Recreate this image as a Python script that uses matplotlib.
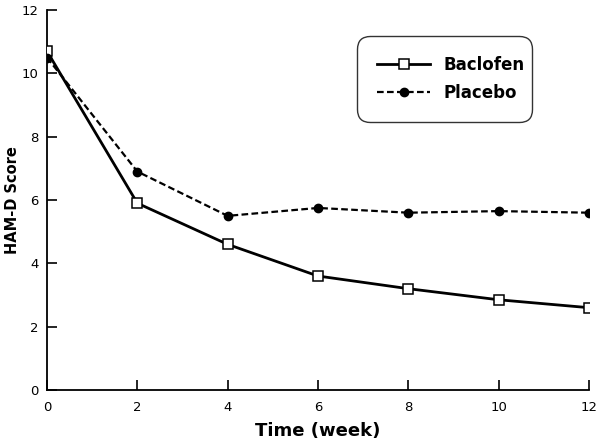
import matplotlib
matplotlib.use("Agg")
import matplotlib.pyplot as plt

weeks = [0, 2, 4, 6, 8, 10, 12]
baclofen = [10.7, 5.9, 4.6, 3.6, 3.2, 2.85, 2.6]
placebo = [10.5, 6.9, 5.5, 5.75, 5.6, 5.65, 5.6]
xticks = [0, 2, 4, 6, 8, 10, 12]
yticks = [0, 2, 4, 6, 8, 10, 12]

fig = plt.figure(figsize=(6, 4.42), dpi=100)
ax = fig.add_axes([0.0783, 0.1176, 0.9034, 0.8597])

ax.plot(weeks, baclofen, '-', color='black', lw=2, marker='s', ms=6.5,
        mfc='white', mec='black', mew=1.1, label='Baclofen', zorder=3)
ax.plot(weeks, placebo, '--', color='black', lw=1.6, marker='o', ms=6,
        mfc='black', mec='black', label='Placebo', dashes=(3, 1.5), zorder=3)

ax.set_xlim(0, 12)
ax.set_ylim(0, 12)
ax.set_xticks(xticks)
ax.set_yticks(yticks)
ax.spines['top'].set_visible(False)
ax.spines['right'].set_visible(False)
for s in ['left', 'bottom']:
    ax.spines[s].set_linewidth(1.3)
ax.tick_params(direction='in', length=7, width=1.2, labelsize=9.5)
ax.tick_params(axis='x', pad=8)
ax.tick_params(axis='y', pad=6)
ax.set_xlabel('Time (week)', fontsize=13, fontweight='bold', labelpad=6)
ax.set_ylabel('HAM-D Score', fontsize=10.5, fontweight='bold')
ax.yaxis.set_label_coords(-0.049, 0.5)

leg = ax.legend(loc='center', bbox_to_anchor=(0.563, 0.716, 0.341, 0.205),
                frameon=True, fancybox=True, edgecolor='#333333', framealpha=1,
                prop={'weight': 'bold', 'size': 12}, handlelength=3.2,
                borderpad=1.0, labelspacing=0.6, mode='expand')
leg.get_frame().set_linewidth(1.0)
leg.get_frame().set_boxstyle('round', pad=0.2, rounding_size=0.8)

fig.savefig('out.png', dpi=100)
